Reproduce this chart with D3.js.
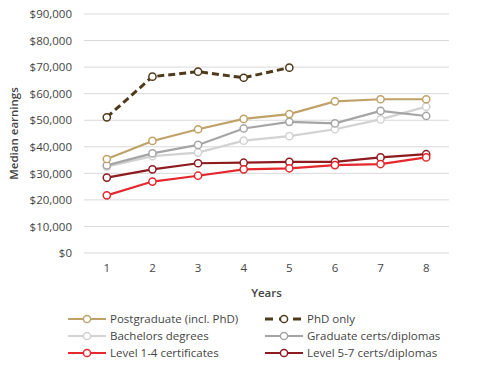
<!DOCTYPE html>
<html>
<head>
<meta charset="utf-8">
<script src="https://cdn.jsdelivr.net/npm/d3@7"></script>
<style>
  body { margin: 0; background: #fff; }
  text { font-family: "Open Sans", "Liberation Sans", sans-serif; fill: #454545; }
</style>
</head>
<body>
<div id="chart"></div>
<script>
/* Median earnings by years after study */

const years = [1, 2, 3, 4, 5, 6, 7, 8];
const yTicks = [0, 10000, 20000, 30000, 40000, 50000, 60000, 70000, 80000, 90000];

const postgrad = [35400, 42200, 46600, 50500, 52300, 57100, 57900, 57900];
const phdOnly = [51100, 66400, 68300, 66000, 69800];
const bachelors = [32500, 36500, 37800, 42300, 44000, 46600, 50300, 55100];
const gradCerts = [33000, 37500, 40700, 46900, 49400, 48800, 53500, 51600];
const level14 = [21700, 26900, 29100, 31500, 31900, 33100, 33500, 36000];
const level57 = [28400, 31500, 33800, 34000, 34300, 34300, 36000, 37200];

const seriesNames = ["Postgraduate (incl. PhD)", "PhD only", "Bachelors degrees",
  "Graduate certs/diplomas", "Level 1-4 certificates", "Level 5-7 certs/diplomas"];
const seriesColors = ["#bfa267", "#4f3b1c", "#d2d2d2", "#a5a5a5", "#e5282d", "#8e1b1f"];

const series = [
  { name: seriesNames[0], values: postgrad, color: seriesColors[0], dash: null },
  { name: seriesNames[1], values: phdOnly, color: seriesColors[1], dash: "7,4" },
  { name: seriesNames[2], values: bachelors, color: seriesColors[2], dash: null },
  { name: seriesNames[3], values: gradCerts, color: seriesColors[3], dash: null },
  { name: seriesNames[4], values: level14, color: seriesColors[4], dash: null },
  { name: seriesNames[5], values: level57, color: seriesColors[5], dash: null }
];

const width = 490, height = 376;
const margin = { top: 14, right: 41, bottom: 123, left: 84 };

const svg = d3.select("#chart").append("svg")
  .attr("width", width)
  .attr("height", height);

const x = d3.scaleBand()
  .domain(years)
  .range([margin.left, width - margin.right]);

const y = d3.scaleLinear()
  .domain([0, 90000])
  .range([height - margin.bottom, margin.top]);

// gridlines
svg.append("g")
  .selectAll("line")
  .data(yTicks)
  .join("line")
  .attr("x1", margin.left)
  .attr("x2", width - margin.right)
  .attr("y1", d => y(d))
  .attr("y2", d => y(d))
  .attr("stroke", "#d9d9d9")
  .attr("stroke-width", 1);

// y axis
const yAxis = svg.append("g")
  .attr("transform", `translate(${margin.left},0)`)
  .call(d3.axisLeft(y).tickValues(yTicks).tickSize(0).tickPadding(12)
    .tickFormat(d => "$" + d3.format(",")(d)));
yAxis.select(".domain").remove();
yAxis.selectAll("text").attr("font-size", 11.5).attr("fill", "#454545")
  .attr("font-family", "Open Sans, sans-serif");

// x axis
const xAxis = svg.append("g")
  .attr("transform", `translate(0,${height - margin.bottom})`)
  .call(d3.axisBottom(x).tickSize(0).tickPadding(11));
xAxis.select(".domain").remove();
xAxis.selectAll("text").attr("font-size", 11.5).attr("fill", "#454545")
  .attr("font-family", "Open Sans, sans-serif");

svg.append("text")
  .text("Years")
  .attr("x", (margin.left + width - margin.right) / 2)
  .attr("y", 297)
  .attr("text-anchor", "middle")
  .attr("font-size", 11.5)
  .attr("font-weight", "600");

svg.append("text")
  .text("Median earnings")
  .attr("transform", `translate(18,${(margin.top + height - margin.bottom) / 2}) rotate(-90)`)
  .attr("text-anchor", "middle")
  .attr("font-size", 11.5)
  .attr("font-weight", "600");

const line = d3.line()
  .x((d, i) => x(years[i]) + x.bandwidth() / 2)
  .y(d => y(d));

// draw bottom series first so upper lines sit on top
const drawOrder = [5, 4, 2, 3, 0, 1];
for (const idx of drawOrder) {
  const s = series[idx];
  const g = svg.append("g");
  g.append("path")
    .datum(s.values)
    .attr("fill", "none")
    .attr("stroke", s.color)
    .attr("stroke-width", s.dash ? 3 : 2.2)
    .attr("stroke-dasharray", s.dash)
    .attr("d", line);
  g.selectAll("circle")
    .data(s.values)
    .join("circle")
    .attr("cx", (d, i) => x(years[i]) + x.bandwidth() / 2)
    .attr("cy", d => y(d))
    .attr("r", 3.6)
    .attr("fill", "#fff")
    .attr("stroke", s.color)
    .attr("stroke-width", 1.5);
}

// legend
const legend = svg.append("g");
const legendCols = [68, 265];
const legendRows = [319, 336, 353];
series.forEach((s, i) => {
  const lx = legendCols[i % 2], ly = legendRows[Math.floor(i / 2)];
  const item = legend.append("g").attr("transform", `translate(${lx},${ly})`);
  item.append("line")
    .attr("x1", 0).attr("x2", 38)
    .attr("y1", 0).attr("y2", 0)
    .attr("stroke", s.color)
    .attr("stroke-width", s.dash ? 3 : 2.2)
    .attr("stroke-dasharray", s.dash ? "8,6" : null);
  item.append("circle")
    .attr("cx", 19).attr("cy", 0).attr("r", 3.6)
    .attr("fill", "#fff")
    .attr("stroke", s.color)
    .attr("stroke-width", 1.5);
  item.append("text")
    .text(s.name)
    .attr("x", 42)
    .attr("y", 0)
    .attr("dy", "0.35em")
    .attr("font-size", 11.5);
});
</script>
</body>
</html>
